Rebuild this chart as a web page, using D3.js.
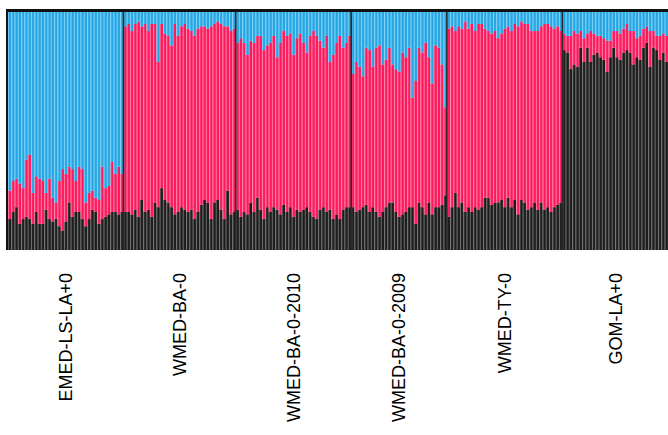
<!DOCTYPE html>
<html>
<head>
<meta charset="utf-8">
<script src="https://cdn.jsdelivr.net/npm/d3@7"></script>
<style>
  html, body { margin: 0; padding: 0; background: #fff; }
  svg { display: block; }
</style>
</head>
<body>
<script>
// Population groups (labels)
const groups = ["EMED-LS-LA+0", "WMED-BA-0", "WMED-BA-0-2010", "WMED-BA-0-2009", "WMED-TY-0", "GOM-LA+0"];

// Cluster 1 (black) membership per individual, by group
const black1 = [.13,.16,.18,.11,.13,.14,.13,.11,.16,.11,.11,.17,.13,.12,.13,.10,.08,.12,.20,.14,.16,.16,.13,.10,.13,.17,.16,.11,.13,.14,.15,.16,.16,.15,.16];
const black2 = [.16,.16,.15,.17,.14,.21,.16,.17,.14,.20,.18,.26,.21,.20,.18,.15,.16,.18,.17,.16,.17,.13,.16,.19,.21,.20,.13,.20,.21,.17,.13,.25,.15,.16];
const black3 = [.17,.14,.16,.15,.20,.16,.22,.17,.13,.18,.16,.18,.17,.15,.19,.16,.18,.14,.17,.16,.17,.18,.16,.14,.13,.17,.18,.16,.17,.13,.15,.13,.17,.18,.18];
const black4 = [.18,.16,.17,.18,.19,.16,.18,.16,.14,.16,.18,.20,.20,.16,.14,.15,.16,.18,.18,.11,.20,.18,.15,.20,.15,.18,.18,.19,.23];
const black5 = [.14,.18,.24,.18,.20,.16,.18,.16,.18,.17,.18,.22,.22,.19,.20,.20,.21,.18,.22,.18,.21,.15,.21,.20,.17,.18,.20,.17,.20,.17,.18,.16,.18,.19,.20];
const black6 = [.84,.83,.76,.78,.77,.85,.79,.85,.79,.82,.83,.81,.80,.75,.81,.85,.81,.80,.83,.84,.83,.78,.81,.80,.85,.87,.77,.85,.84,.80,.83,.79];

// Cluster 2 (pink) membership per individual, by group; cluster 3 (blue) is the remainder
const pink1 = [.12,.13,.12,.17,.13,.24,.27,.13,.15,.19,.18,.07,.17,.10,.07,.19,.26,.20,.15,.20,.13,.19,.21,.10,.11,.08,.06,.10,.22,.12,.12,.21,.16,.20,.16];
const pink2 = [.78,.79,.77,.78,.82,.73,.79,.75,.81,.75,.61,.69,.70,.70,.68,.80,.74,.76,.78,.77,.75,.77,.77,.75,.73,.73,.81,.75,.75,.78,.81,.69,.77,.77];
const pink3 = [.70,.75,.71,.67,.68,.71,.68,.73,.71,.68,.71,.72,.64,.72,.73,.74,.73,.68,.72,.75,.70,.65,.74,.78,.77,.71,.67,.74,.62,.69,.72,.77,.68,.69,.72];
const pink4 = [.56,.63,.60,.55,.66,.68,.59,.69,.72,.62,.62,.65,.58,.60,.61,.68,.65,.67,.46,.60,.65,.65,.72,.61,.55,.68,.67,.59,.37];
const pink5 = [.79,.76,.68,.76,.73,.80,.75,.79,.74,.78,.77,.71,.70,.72,.72,.69,.70,.75,.72,.74,.74,.79,.75,.75,.78,.74,.72,.75,.74,.78,.77,.78,.75,.75,.72];
const pink6 = [.07,.07,.14,.14,.14,.07,.10,.06,.13,.09,.07,.09,.09,.13,.07,.07,.11,.11,.10,.11,.09,.14,.08,.10,.08,.07,.15,.07,.06,.10,.08,.11];

const blackSets = [black1, black2, black3, black4, black5, black6];
const pinkSets = [pink1, pink2, pink3, pink4, pink5, pink6];

// Build individual records
const individuals = [];
blackSets.forEach((bs, g) => {
  bs.forEach((b, i) => {
    const p = pinkSets[g][i];
    individuals.push({ id: individuals.length, group: g, black: b, pink: p, blue: Math.max(0, 1 - b - p) });
  });
});

const W = 668, H = 435;
const plot = { left: 8, right: 668, top: 12, bottom: 250 };

const svg = d3.select("body").append("svg").attr("width", W).attr("height", H);
svg.append("rect").attr("width", W).attr("height", H).attr("fill", "#fff");

const x = d3.scaleBand().domain(individuals.map(d => d.id)).range([plot.left, plot.right]).padding(0);
const y = d3.scaleLinear().domain([0, 1]).range([plot.bottom, plot.top]);

const keys = ["black", "pink", "blue"];
const fills = { black: "#1e1e1e", pink: "#fb1a5e", blue: "#27a6e3" };
const edges = { black: "#5c5c5c", pink: "#ff6f98", blue: "#6ccaf3" };

const stack = d3.stack().keys(keys)(individuals);
const bw = x.bandwidth();

const layers = svg.append("g").selectAll("g").data(stack).join("g");
// light edge (whole width) then dark fill inset
layers.selectAll("rect.edge").data(d => d.map(s => ({ s, key: d.key }))).join("rect")
  .attr("class", "edge")
  .attr("x", d => x(d.s.data.id))
  .attr("width", bw)
  .attr("y", d => y(d.s[1]))
  .attr("height", d => Math.max(0, y(d.s[0]) - y(d.s[1])))
  .attr("fill", d => edges[d.key]);
layers.selectAll("rect.fill").data(d => d.map(s => ({ s, key: d.key }))).join("rect")
  .attr("class", "fill")
  .attr("x", d => x(d.s.data.id) + 1.0)
  .attr("width", bw - 1.2)
  .attr("y", d => y(d.s[1]))
  .attr("height", d => Math.max(0, y(d.s[0]) - y(d.s[1])))
  .attr("fill", d => fills[d.key]);

// group extents
const groupInfo = groups.map((name, g) => {
  const members = individuals.filter(d => d.group === g);
  const x0 = x(members[0].id);
  const x1 = x(members[members.length - 1].id) + bw;
  return { name, x0, x1, cx: (x0 + x1) / 2 };
});

// separators between groups
svg.append("g").selectAll("line").data(groupInfo.slice(1)).join("line")
  .attr("x1", d => d.x0).attr("x2", d => d.x0)
  .attr("y1", plot.top).attr("y2", plot.bottom)
  .attr("stroke", "#2a2a2a").attr("stroke-width", 1.6);

// frame: left and top borders
svg.append("line").attr("x1", plot.left - 1).attr("x2", plot.left - 1)
  .attr("y1", plot.top - 2).attr("y2", plot.bottom)
  .attr("stroke", "#111").attr("stroke-width", 2);
svg.append("line").attr("x1", plot.left - 2).attr("x2", plot.right)
  .attr("y1", plot.top - 1.5).attr("y2", plot.top - 1.5)
  .attr("stroke", "#111").attr("stroke-width", 3);

// group labels, rotated
svg.append("g").selectAll("text").data(groupInfo).join("text")
  .attr("transform", d => `translate(${d.cx},273) rotate(-90)`)
  .attr("text-anchor", "end")
  .attr("dy", "0.35em")
  .attr("font-family", "'Liberation Sans', Arial, sans-serif")
  .attr("font-size", 18)
  .attr("fill", "#000")
  .text(d => d.name);
</script>
</body>
</html>
